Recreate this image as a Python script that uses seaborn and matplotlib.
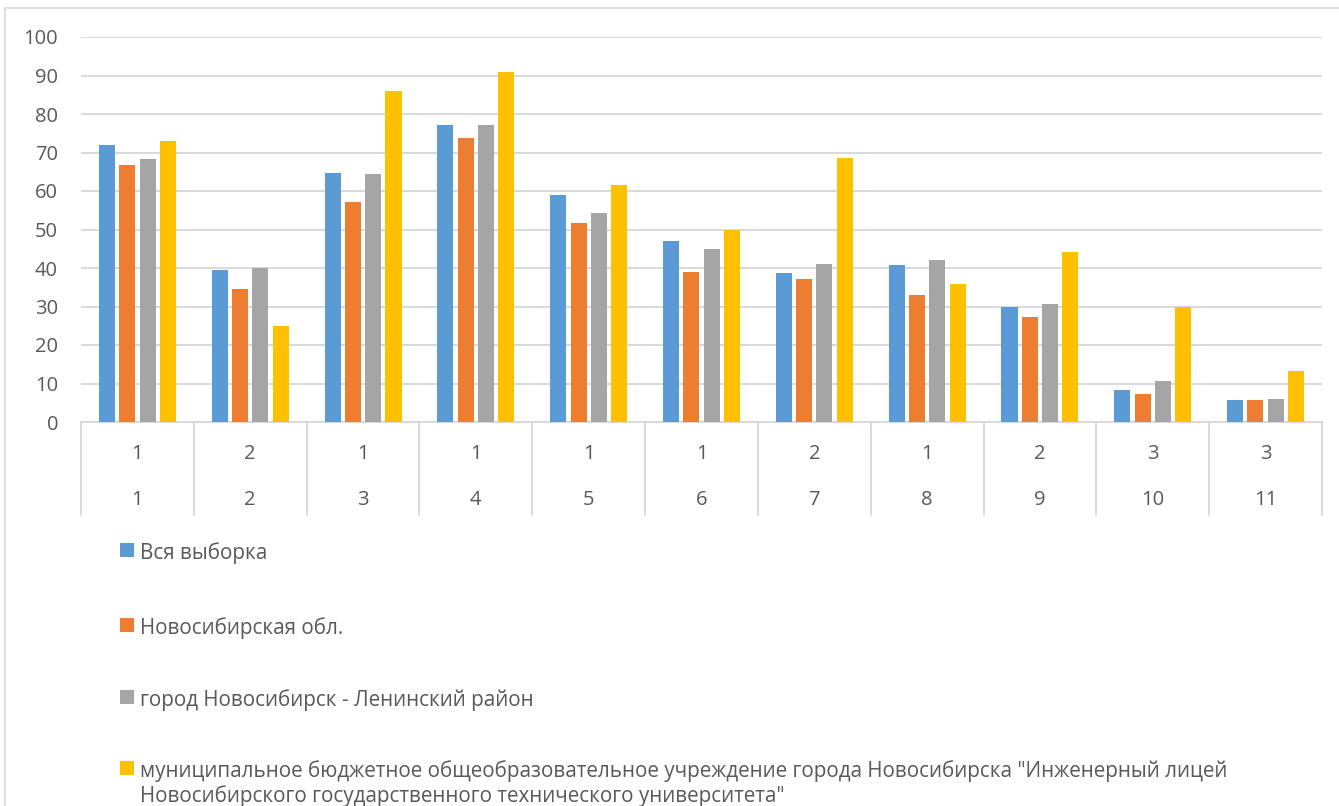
import matplotlib
matplotlib.use("Agg")
import matplotlib.pyplot as plt
import matplotlib.transforms as mtransforms
from matplotlib.patches import Rectangle
from matplotlib.lines import Line2D
import pandas as pd
import seaborn as sns

# Task numbers (outer level) and their difficulty level (inner level)
tasks = ["1", "2", "3", "4", "5", "6", "7", "8", "9", "10", "11"]
levels = ["1", "2", "1", "1", "1", "1", "2", "1", "2", "3", "3"]

series_names = [
    "Вся выборка",
    "Новосибирская обл.",
    "город Новосибирск - Ленинский район",
    "муниципальное бюджетное общеобразовательное учреждение города Новосибирска \"Инженерный лицей\n"
    "Новосибирского государственного технического университета\"",
]

all_sample = [71.9, 39.5, 64.6, 77.1, 59.0, 46.9, 38.6, 40.9, 29.9, 8.3, 5.6]
region = [66.7, 34.5, 57.1, 73.8, 51.6, 38.9, 37.2, 33.0, 27.4, 7.4, 5.6]
district = [68.3, 40.1, 64.4, 77.1, 54.4, 44.9, 41.0, 42.1, 30.6, 10.7, 6.1]
lyceum = [73.0, 24.9, 85.9, 90.9, 61.5, 49.9, 68.5, 35.8, 44.2, 29.8, 13.2]

colors = ["#5B9BD5", "#ED7D31", "#A5A5A5", "#FFC000"]
yticks = [0, 10, 20, 30, 40, 50, 60, 70, 80, 90, 100]

sns.set_theme(style="white")
plt.rcParams["font.family"] = ["Open Sans", "DejaVu Sans"]

TXT = "#595959"
GRID = "#D9D9D9"
FS = 14.5
LEG_FS = 14.9

rows = []
for name, vals in zip(series_names, [all_sample, region, district, lyceum]):
    for t, v in zip(tasks, vals):
        rows.append({"task": t, "series": name, "value": v})
df = pd.DataFrame(rows)

W, H = 1339, 806
fig = plt.figure(figsize=(W / 100, H / 100), dpi=100)
ax = fig.add_axes([81 / W, (H - 422) / H, 1241 / W, 385 / H])

sns.barplot(
    data=df, x="task", y="value", hue="series", order=tasks,
    hue_order=series_names, palette=colors, saturation=1, width=0.72,
    gap=0.21, linewidth=0, errorbar=None, legend=False, ax=ax, zorder=3,
)

ax.set_xlim(-0.5, len(tasks) - 0.5)
ax.set_ylim(0, 100)
ax.set_yticks(yticks)
ax.set_yticklabels([str(v) for v in yticks], fontsize=FS, color=TXT)
ax.tick_params(axis="y", length=0, pad=16.5)
ax.set_xticks([])
ax.set_xlabel("")
ax.set_ylabel("")
ax.yaxis.grid(True, color=GRID, linewidth=1.4, zorder=0)
ax.set_axisbelow(True)
for side in ["top", "right", "left"]:
    ax.spines[side].set_visible(False)
ax.spines["bottom"].set_color(GRID)
ax.spines["bottom"].set_linewidth(1.4)

# Two-level category axis: level row and task row, with separators
trans = mtransforms.blended_transform_factory(ax.transData, ax.transAxes)
row1_y = -(454 - 422) / 385
row2_y = -(500 - 422) / 385
sep_bottom = -(515 - 422) / 385
for i, (t, lv) in enumerate(zip(tasks, levels)):
    ax.text(i, row1_y, lv, transform=trans, ha="center", va="center",
            fontsize=FS, color=TXT)
    ax.text(i, row2_y, t, transform=trans, ha="center", va="center",
            fontsize=FS, color=TXT)
for k in range(len(tasks) + 1):
    ax.add_line(Line2D([k - 0.5, k - 0.5], [0, sep_bottom], transform=trans,
                       color=GRID, linewidth=1.4, clip_on=False))

# Legend below the plot
def fx(px):
    return px / W

def fy(py):
    return 1 - py / H

legend_y = [550, 625, 697, 768]
for name, c, yc in zip(series_names, colors, legend_y):
    fig.patches.append(Rectangle((fx(120), fy(yc + 7)), 14 / W, 14 / H,
                                 transform=fig.transFigure, facecolor=c,
                                 edgecolor="none"))
    fig.text(fx(140), fy(yc - 8), name, ha="left", va="top", fontsize=LEG_FS,
             color=TXT, linespacing=1.2)

# Chart area border
fig.patches.append(Rectangle((fx(5), fy(H + 10)), (W + 10) / W, (H + 2) / H,
                             transform=fig.transFigure, facecolor="none",
                             edgecolor=GRID, linewidth=1.2))

fig.savefig("out.png", dpi=100, facecolor="white")
